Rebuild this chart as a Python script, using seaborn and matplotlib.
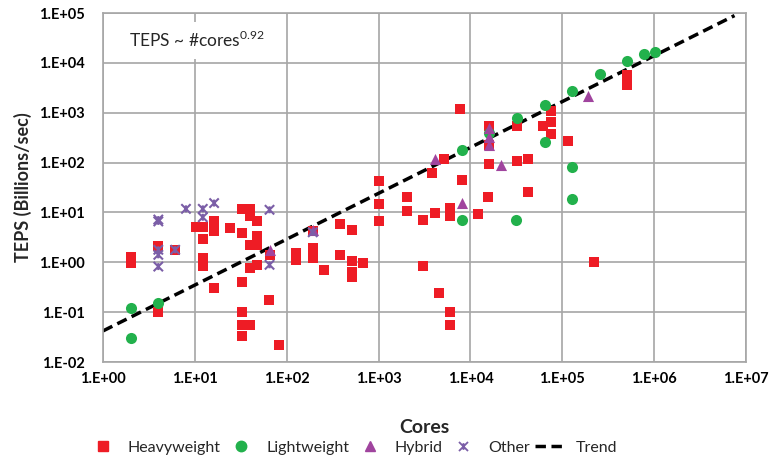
import numpy as np
import pandas as pd
import matplotlib
matplotlib.use("Agg")
import matplotlib.pyplot as plt
from matplotlib.lines import Line2D
from matplotlib.path import Path
import seaborn as sns

# ---------------- data ----------------
heavy_x = [2, 2, 4, 4, 6.1, 10.3, 12.2, 12.2, 12.2, 12.2, 16.2, 16.2, 16.2, 24.2,
           32.4, 32.4, 32.4, 32.4, 32.4, 32.4, 40, 40, 40, 40, 40, 47, 47, 47, 47,
           66, 64, 83, 127, 127, 192, 192, 192, 255, 382, 382, 512, 512, 512, 512,
           685, 1020, 1020, 1020, 2030, 2030, 3040, 3040, 3800, 4070, 4570, 5100,
           6030, 6030, 6030, 6030, 7750, 8080, 12100, 15700, 16100, 16100, 16100,
           32100, 32100, 42300, 42300, 61600, 75300, 75300, 75300, 114000, 219000,
           511000, 511000]
heavy_y = [1.27, 0.96, 2.1, 0.1, 1.75, 5.1, 5.1, 2.9, 1.21, 0.85, 6.6, 4.3, 0.30, 4.9,
           11.7, 3.85, 0.41, 0.099, 0.056, 0.033, 11.7, 8.3, 2.24, 0.77, 0.056, 6.8, 3.3, 2.24, 0.89,
           1.41, 0.177, 0.022, 1.53, 1.1, 4.2, 1.93, 1.21, 0.70, 5.8, 1.41, 4.5, 1.04, 0.64, 0.50,
           0.96, 42, 15, 6.6, 20.3, 10.5, 7.1, 0.86, 62, 9.7, 0.24, 119,
           12.2, 8.3, 0.099, 0.054, 1200, 44, 9.4, 20.3, 95, 540, 230,
           109, 530, 117, 26, 530, 1060, 638, 373, 265, 1.0,
           5770, 3640]

light_x = [2, 2, 4, 8080, 8080, 16100, 31300, 32100, 64300, 64300, 129000, 129000,
           129000, 255000, 511000, 769000, 1020000]
light_y = [0.12, 0.031, 0.156, 175, 6.9, 390, 7.1, 782, 1440, 258, 2670, 81,
           18.8, 6040, 10670, 15000, 16400]

hybrid_x = [65, 192, 4070, 8080, 16100, 16100, 16100, 21500, 192000]
hybrid_y = [1.78, 4.5, 119, 15.8, 500, 330, 225, 90, 2120]

other_x = [4, 4, 4, 4, 4, 6.1, 8, 12.2, 12.2, 16.2, 65, 65, 192]
other_y = [6.6, 7.2, 1.78, 1.41, 0.82, 1.78, 11.8, 11.8, 8.0, 15.4, 11.3, 0.89, 4.0]

trend_coef = 0.042
trend_exp = 0.92
trend_x = [1, 7.5e6]

x_ticks = [1e0, 1e1, 1e2, 1e3, 1e4, 1e5, 1e6, 1e7]
x_tick_labels = ["1.E+00", "1.E+01", "1.E+02", "1.E+03", "1.E+04", "1.E+05", "1.E+06", "1.E+07"]
y_ticks = [1e-2, 1e-1, 1e0, 1e1, 1e2, 1e3, 1e4, 1e5]
y_tick_labels = ["1.E-02", "1.E-01", "1.E+00", "1.E+01", "1.E+02", "1.E+03", "1.E+04", "1.E+05"]

categories = ["Heavyweight", "Lightweight", "Hybrid", "Other", "Trend"]

# ---------------- style ----------------
sns.set_style("white")
plt.rcParams["font.family"] = ["Lato", "DejaVu Sans"]

RED = "#ee1c25"
GREEN = "#22b14c"
PURPLE_TRI = "#a0449e"
PURPLE_X = "#7b5ea7"
GRID = "#a6a6a6"

# Excel-style "star" marker: an X with a short vertical bar
star_marker = Path(
    [(-1, -1), (1, 1), (-1, 1), (1, -1), (0, -0.75), (0, 0.75)],
    [Path.MOVETO, Path.LINETO, Path.MOVETO, Path.LINETO, Path.MOVETO, Path.LINETO],
)

fig = plt.figure(figsize=(7.69, 4.59), dpi=100)
ax = fig.add_axes([103 / 769, 1 - 362 / 459, (746 - 103) / 769, (362 - 13) / 459])
ax.set_xscale("log")
ax.set_yscale("log")

df_h = pd.DataFrame({"x": heavy_x, "y": heavy_y})
df_l = pd.DataFrame({"x": light_x, "y": light_y})
df_hy = pd.DataFrame({"x": hybrid_x, "y": hybrid_y})
df_o = pd.DataFrame({"x": other_x, "y": other_y})
trend_y = [trend_coef * v ** trend_exp for v in trend_x]
df_t = pd.DataFrame({"x": trend_x, "y": trend_y})

sns.lineplot(data=df_t, x="x", y="y", ax=ax, color="black", linewidth=2.5,
             dashes=False, zorder=2)
ax.lines[-1].set_dashes([3.0, 1.6])

sns.scatterplot(data=df_h, x="x", y="y", ax=ax, marker="s", color=RED, s=50,
                linewidth=0, zorder=3)
sns.scatterplot(data=df_l, x="x", y="y", ax=ax, marker="o", color=GREEN, s=64,
                linewidth=0, zorder=4)
sns.scatterplot(data=df_hy, x="x", y="y", ax=ax, marker="^", color=PURPLE_TRI, s=64,
                linewidth=0, zorder=5)
ax.scatter(df_o["x"], df_o["y"], marker=star_marker, facecolors="none",
           edgecolors=PURPLE_X, s=45, linewidths=1.5, zorder=6)

ax.set_xlim(1, 1e7)
ax.set_ylim(1e-2, 1e5)
ax.set_xticks(x_ticks)
ax.set_xticklabels(x_tick_labels)
ax.set_yticks(y_ticks)
ax.set_yticklabels(y_tick_labels)
ax.minorticks_off()
ax.tick_params(axis="both", length=0, labelsize=10.5, colors="black")
ax.tick_params(axis="y", pad=13)
ax.tick_params(axis="x", pad=7)
for lab in ax.get_xticklabels() + ax.get_yticklabels():
    lab.set_fontweight("bold")

ax.grid(True, which="major", color=GRID, linewidth=1.2)
ax.set_axisbelow(True)
for sp in ax.spines.values():
    sp.set_color(GRID)
    sp.set_linewidth(1.2)

ax.set_xlabel("Cores", fontsize=14, fontweight="bold", labelpad=24)
ax.set_ylabel("TEPS (Billions/sec)", fontsize=13, fontweight="bold", labelpad=5)

ax.text(0.146, 0.922, r"TEPS ~ #cores$^{\mathregular{0.92}}$", transform=ax.transAxes,
        ha="center", va="center", fontsize=12.5,
        bbox=dict(facecolor="white", edgecolor="none", pad=6), zorder=7)

handles = [
    Line2D([], [], linestyle="none", marker="s", color=RED, markersize=6.5),
    Line2D([], [], linestyle="none", marker="o", color=GREEN, markersize=7.5),
    Line2D([], [], linestyle="none", marker="^", color=PURPLE_TRI, markersize=7.5),
    Line2D([], [], linestyle="none", marker=star_marker, markerfacecolor="none",
           markeredgecolor=PURPLE_X, markersize=6.5, markeredgewidth=1.3),
    Line2D([], [], color="black", linewidth=2.5, dashes=[3.0, 1.6]),
]
fig.legend(handles, categories, loc="lower center", bbox_to_anchor=(0.458, -0.022),
           ncol=5, frameon=False, fontsize=11.5, handlelength=1.9,
           handletextpad=0.6, columnspacing=0.35)

fig.savefig("out.png", dpi=100)
